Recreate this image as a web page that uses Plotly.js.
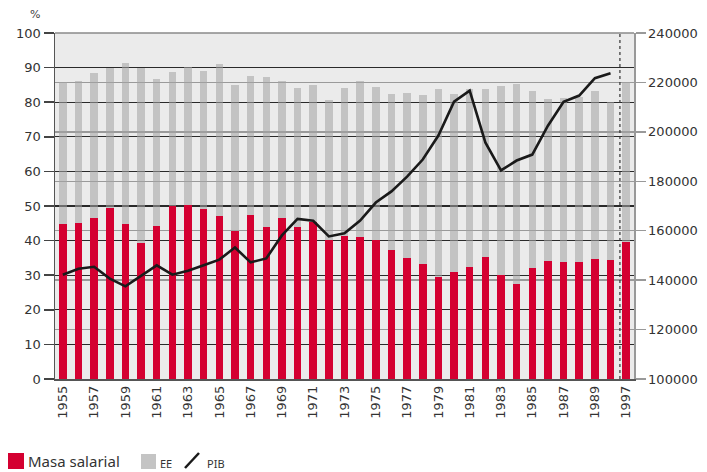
<!DOCTYPE html>
<html>
<head>
<meta charset="utf-8">
<script src="https://cdn.plot.ly/plotly-3.0.1.min.js"></script>
<style>html,body{margin:0;padding:0;background:#fff;}#chart{width:707px;height:472px;}</style>
</head>
<body>
<div id="chart"></div>
<script>
const years = ['1955','1956','1957','1958','1959','1960','1961','1962','1963','1964','1965','1966','1967','1968','1969','1970','1971','1972','1973','1974','1975','1976','1977','1978','1979','1980','1981','1982','1983','1984','1985','1986','1987','1988','1989','1990','1997'];
const masaSalarial = [44.9,45.2,46.4,49.3,44.9,39.2,44.1,50.1,50.4,49.0,47.0,42.9,47.3,43.8,46.4,43.8,45.5,40.3,41.2,40.9,40.3,37.2,35.1,33.1,29.4,30.8,32.5,35.4,30.2,27.6,32.2,34.0,33.7,33.7,34.6,34.3,39.5];
const ee = [41.0,41.0,41.9,40.5,46.5,50.6,42.7,38.7,39.8,40.1,44.1,42.1,40.4,43.6,39.8,40.4,39.5,40.4,43.0,45.3,44.2,45.3,47.7,49.1,54.5,51.7,51.3,48.5,54.6,57.8,50.9,47.0,47.6,47.9,48.5,45.9,46.4];
const pib = [142200,144600,145400,140600,137500,141900,146000,142200,143800,146000,148300,153200,147200,148800,158100,164800,164000,157700,159000,164100,171400,175900,181900,188800,198500,212200,216700,195700,184400,188400,190800,202500,212200,214700,221700,223700,null];
const xTickLabels = ['1955','1957','1959','1961','1963','1965','1967','1969','1971','1973','1975','1977','1979','1981','1983','1985','1987','1989','1997'];
const leftTicks = [0,10,20,30,40,50,60,70,80,90,100];
const rightTicks = [100000,120000,140000,160000,180000,200000,220000,240000];
const legendLabels = ['Masa salarial','EE','PIB'];

const RED = '#d40031';
const tickFont = {family: 'DejaVu Sans', size: 13, color: '#333'};

const traces = [
  {type: 'bar', name: legendLabels[0], x: years, y: masaSalarial, yaxis: 'y',
   marker: {color: RED}, hoverinfo: 'x+y'},
  {type: 'bar', name: legendLabels[1], x: years, y: ee, yaxis: 'y',
   marker: {color: '#a4a4a4'}, opacity: 0.55, hoverinfo: 'x+y'},
  {type: 'scatter', mode: 'lines', name: legendLabels[2], x: years, y: pib, yaxis: 'y2',
   line: {color: '#1a1a1a', width: 2.6}, connectgaps: false}
];

const layout = {
  width: 707, height: 472,
  margin: {l: 55, r: 73, t: 33, b: 93},
  paper_bgcolor: '#ffffff',
  plot_bgcolor: '#ebebeb',
  barmode: 'stack',
  bargap: 0.52,
  showlegend: false,
  xaxis: {
    type: 'category', tickmode: 'array', tickvals: xTickLabels, ticktext: xTickLabels,
    tickangle: -90, ticks: '', showgrid: false, showline: true, linecolor: '#555', linewidth: 1.5,
    tickfont: tickFont, zeroline: false
  },
  yaxis: {
    range: [0, 100], tickmode: 'array', tickvals: leftTicks, ticks: 'outside', ticklen: 10,
    tickcolor: '#444', tickwidth: 1.5, showgrid: true, gridcolor: '#2a2a2a', gridwidth: 1.3,
    showline: true, linecolor: '#555', linewidth: 1.5, zeroline: false, tickfont: tickFont
  },
  yaxis2: {
    overlaying: 'y', side: 'right', range: [100000, 240000], tickmode: 'array', tickvals: rightTicks,
    tickformat: 'd', ticks: 'outside', ticklen: 10, tickcolor: '#999', tickwidth: 1.3,
    showgrid: true, gridcolor: '#9a9a9a', gridwidth: 1.3, showline: true, linecolor: '#999',
    linewidth: 1.5, zeroline: false, tickfont: tickFont
  },
  shapes: [
    {type: 'line', xref: 'paper', yref: 'paper', x0: 0, x1: 1, y0: 1, y1: 1,
     line: {color: '#8a8a8a', width: 1.5}},
    {type: 'line', xref: 'x', yref: 'paper', x0: 35.6, x1: 35.6, y0: 0, y1: 1,
     line: {color: '#333', width: 1.2, dash: 'dot'}},
    {type: 'rect', xref: 'paper', yref: 'paper', xsizemode: 'pixel', ysizemode: 'pixel',
     xanchor: 0, yanchor: 0, x0: -47, x1: -31, y0: -74, y1: -90,
     fillcolor: RED, line: {width: 0}},
    {type: 'rect', xref: 'paper', yref: 'paper', xsizemode: 'pixel', ysizemode: 'pixel',
     xanchor: 0, yanchor: 0, x0: 86, x1: 101, y0: -75, y1: -90,
     fillcolor: '#c4c4c4', line: {width: 0}},
    {type: 'line', xref: 'paper', yref: 'paper', xsizemode: 'pixel', ysizemode: 'pixel',
     xanchor: 0, yanchor: 0, x0: 130, x1: 144, y0: -89, y1: -74,
     line: {color: '#1a1a1a', width: 2.5}}
  ],
  annotations: [
    {text: '%', xref: 'paper', yref: 'paper', x: 0, y: 1, xanchor: 'center', yanchor: 'middle',
     xshift: -20, yshift: 19, showarrow: false, font: {family: 'DejaVu Sans', size: 11, color: '#444'}},
    {text: legendLabels[0], xref: 'paper', yref: 'paper', x: 0, y: 0, xanchor: 'left', yanchor: 'middle',
     xshift: -29, yshift: -82, showarrow: false, font: {family: 'Noto Sans', size: 15, color: '#333'}},
    {text: legendLabels[1], xref: 'paper', yref: 'paper', x: 0, y: 0, xanchor: 'left', yanchor: 'middle',
     xshift: 103, yshift: -84, showarrow: false, font: {family: 'Noto Sans', size: 11, color: '#333'}},
    {text: legendLabels[2], xref: 'paper', yref: 'paper', x: 0, y: 0, xanchor: 'left', yanchor: 'middle',
     xshift: 150, yshift: -84, showarrow: false, font: {family: 'Noto Sans', size: 11, color: '#333'}}
  ]
};

Plotly.newPlot('chart', traces, layout, {displayModeBar: false, staticPlot: true});
</script>
</body>
</html>
